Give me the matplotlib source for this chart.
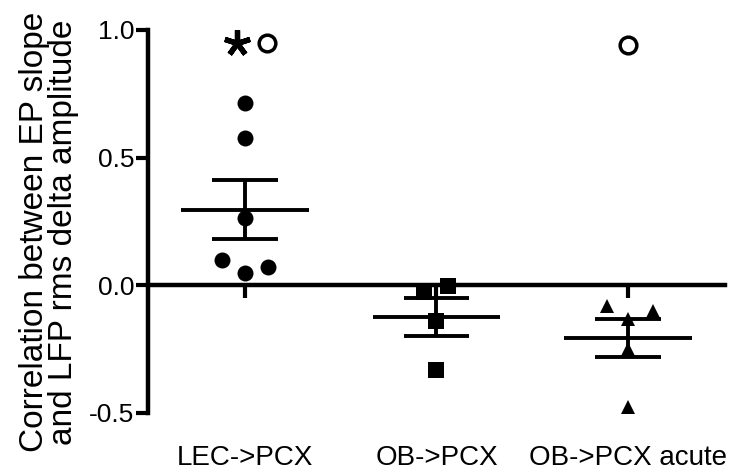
import numpy as np
import matplotlib.pyplot as plt
from matplotlib.markers import MarkerStyle
import matplotlib.transforms as mtransforms

plt.rcParams['font.family'] = ['Liberation Sans', 'DejaVu Sans']
plt.rcParams['axes.unicode_minus'] = False

groups = ['LEC->PCX', 'OB->PCX', 'OB->PCX acute']
# values, with small sideways offsets of overlapping points
lec = [0.715, 0.578, 0.265, 0.10, 0.05, 0.07]
lec_dx = [0, 0, 0, -0.12, 0, 0.12]
ob = [-0.027, -0.004, -0.14, -0.33]
ob_dx = [-0.063, 0.058, 0, 0]
acute = [-0.08, -0.10, -0.13, -0.25, -0.475]
acute_dx = [-0.11, 0.13, 0, 0, 0]
# excluded outliers (open circles), group index and value
outlier_grp = [1, 3]
outlier_val = [0.95, 0.94]
outlier_dx = [0.115, 0.0]
star_y = 0.95
star_dx = -0.04

yticks = [-0.5, 0.0, 0.5, 1.0]

fig = plt.figure(figsize=(7.37, 4.76), dpi=100)
ax = fig.add_axes([0.2008, 0.1324, 0.7829, 0.8046])

lw = 2.8
series = [lec, ob, acute]
offsets = [lec_dx, ob_dx, acute_dx]
markers = ['o', 's', '^']
sizes = [11.5, 11, 10.5]
for i, (vals, dx, m, s) in enumerate(zip(series, offsets, markers, sizes)):
    xc = i + 1
    vals = np.array(vals)
    ax.plot(xc + np.array(dx), vals, m, color='black', ms=s, mew=0,
            clip_on=False, zorder=3)
    mean = vals.mean()
    sem = vals.std(ddof=1) / np.sqrt(len(vals))
    ax.hlines(mean, xc - 0.334, xc + 0.334, color='black', lw=lw, zorder=2)
    ax.hlines([mean - sem, mean + sem], xc - 0.172, xc + 0.172,
              color='black', lw=lw, zorder=2)
    ax.vlines(xc, mean - sem, mean + sem, color='black', lw=lw, zorder=2)

ax.plot(np.array(outlier_grp) + np.array(outlier_dx), outlier_val, 'o',
        mfc='white', mec='black', ms=12, mew=2.5, clip_on=False, zorder=3)
ax.plot(1 + star_dx, star_y, linestyle='none',
        marker=MarkerStyle((5, 2, 0), capstyle='round'),
        ms=19, mew=3.8, color='black', clip_on=False, zorder=3)

ax.set_xlim(0.4935, 3.5065)
ax.set_ylim(-0.5, 1.0)
ax.spines['top'].set_visible(False)
ax.spines['right'].set_visible(False)
ax.spines['bottom'].set_position(('data', 0))
for sp in ['left', 'bottom']:
    ax.spines[sp].set_linewidth(3.2)
    ax.spines[sp].set_capstyle('projecting')

ax.set_yticks(yticks)
ax.set_yticklabels(['%.1f' % t for t in yticks])
ax.set_xticks([1, 2, 3])
ax.tick_params(axis='y', length=9, width=3, pad=1, labelsize=19)
ax.tick_params(axis='x', length=9, width=3, labelbottom=False)

trans = mtransforms.blended_transform_factory(ax.transData, ax.transAxes)
for i, g in enumerate(groups):
    ax.text(i + 1, -0.1358, g, transform=trans, ha='center', va='baseline',
            fontsize=20)

fig.text(49 / 737, (476 - 232) / 476,
         'Correlation between EP slope\nand LFP rms delta amplitude',
         rotation=90, ha='center', va='center', multialignment='center',
         fontsize=24, linespacing=0.95)

fig.savefig('out.png', dpi=100)
